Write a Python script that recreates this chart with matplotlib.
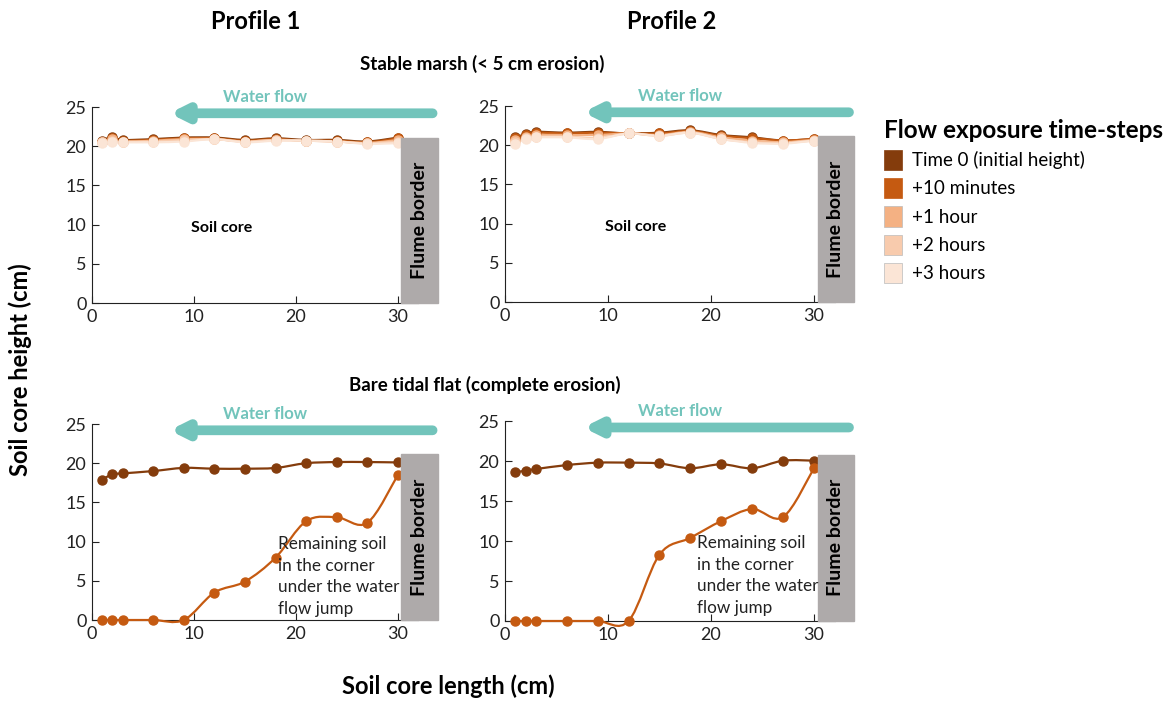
import matplotlib.pyplot as plt
import matplotlib.patches as ptch
from matplotlib.path import Path
import numpy as np

plt.rcParams['font.family'] = ['Lato', 'DejaVu Sans']

# soil core positions (cm)
pos = [1, 2, 3, 6, 9, 12, 15, 18, 21, 24, 27, 30]

# stable marsh, profile 1
p1_t0 = [20.7, 21.2, 20.8, 20.9, 21.1, 21.1, 20.8, 21.0, 20.8, 20.8, 20.6, 21.1]
p1_10m = [20.6, 21.0, 20.7, 20.8, 21.0, 21.0, 20.7, 20.9, 20.7, 20.7, 20.5, 21.0]
p1_1h = [20.6, 20.9, 20.6, 20.7, 20.9, 20.9, 20.6, 20.8, 20.7, 20.6, 20.4, 20.8]
p1_2h = [20.5, 20.7, 20.6, 20.6, 20.8, 20.9, 20.6, 20.8, 20.7, 20.6, 20.4, 20.6]
p1_3h = [20.4, 20.5, 20.5, 20.5, 20.6, 20.9, 20.5, 20.7, 20.7, 20.6, 20.3, 20.4]

# stable marsh, profile 2
p2_t0 = [21.0, 21.4, 21.7, 21.6, 21.7, 21.5, 21.6, 21.9, 21.3, 21.0, 20.6, 20.8]
p2_10m = [20.9, 21.3, 21.6, 21.5, 21.6, 21.5, 21.5, 21.8, 21.2, 20.9, 20.6, 20.8]
p2_1h = [20.7, 21.1, 21.3, 21.3, 21.3, 21.5, 21.3, 21.7, 21.0, 20.6, 20.4, 20.7]
p2_2h = [20.4, 20.9, 21.1, 21.1, 20.9, 21.5, 21.2, 21.6, 20.8, 20.4, 20.3, 20.6]
p2_3h = [20.2, 20.8, 21.0, 21.0, 20.8, 21.5, 21.2, 21.6, 20.8, 20.3, 20.2, 20.6]

# bare tidal flat
f1_t0 = [17.9, 18.6, 18.7, 19.0, 19.4, 19.3, 19.3, 19.4, 20.0, 20.15, 20.15, 20.1]
f1_10m = [0, 0, 0, 0, 0, 3.5, 4.9, 7.95, 12.6, 13.1, 12.4, 18.5]
f2_t0 = [18.6, 18.8, 19.0, 19.5, 19.8, 19.8, 19.7, 19.1, 19.6, 19.1, 20.05, 20.05]
f2_10m = [0, 0, 0, 0, 0, 0, 8.3, 10.4, 12.5, 14.0, 13.0, 19.1]

steps = ['Time 0 (initial height)', '+10 minutes', '+1 hour', '+2 hours', '+3 hours']
cols = ['#843C0C', '#C55A11', '#F4B183', '#F8CBAD', '#FBE5D6']
teal = '#72C4BB'


def smooth(ax, x, y, c):
    # excel-like smoothed line through the points
    x = np.array(x, float)
    y = np.array(y, float)
    pts = np.column_stack([x, y])
    ext = np.vstack([pts[0], pts, pts[-1]])
    verts = [tuple(pts[0])]
    codes = [Path.MOVETO]
    for i in range(len(pts) - 1):
        p0, p1, p2, p3 = ext[i], ext[i + 1], ext[i + 2], ext[i + 3]
        c1 = p1 + (p2 - p0) / 6
        c2 = p2 - (p3 - p1) / 6
        verts += [tuple(c1), tuple(c2), tuple(p2)]
        codes += [Path.CURVE4] * 3
    ax.add_patch(ptch.PathPatch(Path(verts, codes), fill=False, ec=c, lw=1.6,
                                zorder=3, clip_on=False))
    ax.plot(x, y, 'o', color=c, ms=6.5, zorder=4, clip_on=False)


def setup(ax, fh):
    ax.set_xlim(0, 32)
    ax.set_ylim(0, 25)
    ax.set_xticks([0, 10, 20, 30])
    ax.set_yticks([0, 5, 10, 15, 20, 25])
    ax.tick_params(direction='in', length=5, labelsize=13, colors='#222222', pad=4)
    for s in ['top', 'right']:
        ax.spines[s].set_visible(False)
    for s in ['left', 'bottom']:
        ax.spines[s].set_color('#222222')
    ax.add_patch(ptch.Rectangle((30.35, 0), 3.55, fh, color='#AEAAAA', clip_on=False, zorder=5))
    ax.text(32.1, fh / 2, 'Flume border', rotation=90, ha='center', va='center',
            fontsize=14, fontweight='bold', zorder=6)
    ax.annotate('', xy=(7.6, 24.2), xytext=(33.4, 24.2),
                arrowprops=dict(arrowstyle='-|>,head_width=0.45,head_length=0.9',
                                lw=7, color=teal, shrinkA=0, shrinkB=0),
                annotation_clip=False)
    ax.text(17, 26.3, 'Water flow', color=teal, fontsize=12, fontweight='bold',
            ha='center', va='center')


fig = plt.figure(figsize=(11.76, 7.04), dpi=100)
w = 0.2775
h = 0.2784
ax1 = fig.add_axes([0.0782, 0.5696, w, h])
ax2 = fig.add_axes([0.4294, 0.5710, w * 1.01, h * 1.0])
ax3 = fig.add_axes([0.0782, 0.1193, w, h])
ax4 = fig.add_axes([0.4294, 0.1179, w * 1.01, h * 1.02])

setup(ax1, 21.0)
setup(ax2, 21.2)
setup(ax3, 21.2)
setup(ax4, 20.8)

for ys, c in zip([p1_t0, p1_10m, p1_1h, p1_2h, p1_3h], cols):
    smooth(ax1, pos, ys, c)
for ys, c in zip([p2_t0, p2_10m, p2_1h, p2_2h, p2_3h], cols):
    smooth(ax2, pos, ys, c)
smooth(ax3, pos, f1_t0, cols[0])
smooth(ax3, pos, f1_10m, cols[1])
smooth(ax4, pos, f2_t0, cols[0])
smooth(ax4, pos, f2_10m, cols[1])

for ax in [ax1, ax2]:
    ax.text(12.7, 9.6, 'Soil core', fontsize=11.5, fontweight='bold', ha='center', va='center')
for ax, xx in [(ax3, 18.2), (ax4, 18.6)]:
    ax.text(xx, 10.7, 'Remaining soil\nin the corner\nunder the water\nflow jump', fontsize=12.3,
            ha='left', va='top', color='#222222', linespacing=1.42, zorder=6)

fig.text(0.217, 0.97, 'Profile 1', fontsize=17, fontweight='bold', ha='center', va='center')
fig.text(0.571, 0.97, 'Profile 2', fontsize=17, fontweight='bold', ha='center', va='center')
fig.text(0.41, 0.909, 'Stable marsh (< 5 cm erosion)', fontsize=13.5, fontweight='bold',
         ha='center', va='center')
fig.text(0.412, 0.453, 'Bare tidal flat (complete erosion)', fontsize=13.5, fontweight='bold',
         ha='center', va='center')
fig.text(0.017, 0.475, 'Soil core height (cm)', fontsize=17, fontweight='bold',
         rotation=90, ha='center', va='center')
fig.text(0.381, 0.025, 'Soil core length (cm)', fontsize=17, fontweight='bold',
         ha='center', va='center')

handles = [ptch.Patch(facecolor=c, edgecolor='#BBBBBB' if i > 1 else c, lw=0.5)
           for i, c in enumerate(cols)]
leg = fig.legend(handles, steps, loc='upper left', bbox_to_anchor=(0.745, 0.842),
                 frameon=False, fontsize=13.5, title='Flow exposure time-steps',
                 title_fontproperties={'weight': 'bold', 'size': 17.5},
                 handlelength=1.0, handleheight=1.3, handletextpad=0.5,
                 labelspacing=0.42, alignment='left', borderaxespad=0)

fig.savefig('out.png', dpi=100)
